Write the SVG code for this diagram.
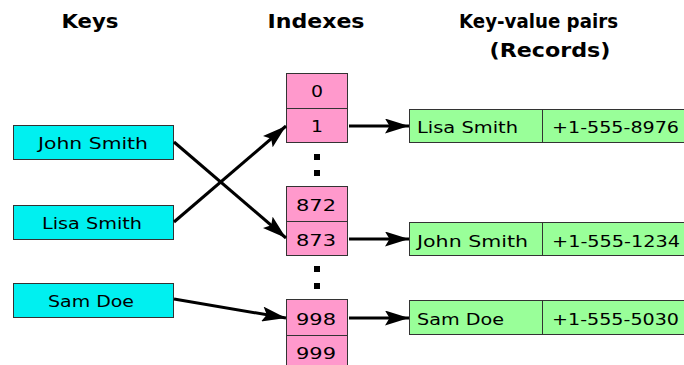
<svg xmlns="http://www.w3.org/2000/svg" width="684" height="365" viewBox="0 0 684 365">
<style>
.t{font-family:"DejaVu Sans","Liberation Sans",sans-serif;font-weight:bold;font-size:20px;fill:#000}
.l{font-family:"DejaVu Sans",Verdana,sans-serif;font-size:16.5px;fill:#000}
.key{fill:#00F0F0;stroke:#333;stroke-width:1}
.idx{fill:#FF99CC;stroke:#333;stroke-width:1}
.rec{fill:#99FF99;stroke:#333;stroke-width:1}
.c{stroke:#000;stroke-width:3;fill:none;marker-end:url(#ah)}
</style>
<defs>
<marker id="ah" markerWidth="8" markerHeight="5" refX="8" refY="2.5" orient="auto" markerUnits="strokeWidth">
<path d="M0,0 L8,2.5 L0,5 L1.5,2.5 Z" fill="#000"/>
</marker>
</defs>
<rect width="684" height="365" fill="#fff"/>
<g id="titles">
<text class="t" x="90" y="28" text-anchor="middle" textLength="57" lengthAdjust="spacingAndGlyphs">Keys</text>
<text class="t" x="316" y="28" text-anchor="middle" textLength="97" lengthAdjust="spacingAndGlyphs">Indexes</text>
<text class="t" x="538.5" y="28" text-anchor="middle" textLength="159" lengthAdjust="spacingAndGlyphs">Key-value pairs</text>
<text class="t" x="550" y="57" text-anchor="middle" textLength="121" lengthAdjust="spacingAndGlyphs">(Records)</text>
</g>
<g id="key-john">
<rect class="key" x="13.5" y="125.5" width="160" height="34"/>
<text class="l" x="93" y="149" text-anchor="middle" textLength="110" lengthAdjust="spacingAndGlyphs">John Smith</text>
</g>
<g id="key-lisa">
<rect class="key" x="13.5" y="205.5" width="160" height="34"/>
<text class="l" x="92" y="229" text-anchor="middle" textLength="100" lengthAdjust="spacingAndGlyphs">Lisa Smith</text>
</g>
<g id="key-sam">
<rect class="key" x="13.5" y="283.5" width="160" height="34"/>
<text class="l" x="91" y="307" text-anchor="middle" textLength="86" lengthAdjust="spacingAndGlyphs">Sam Doe</text>
</g>
<g id="idx-0">
<rect class="idx" x="286.5" y="73.5" width="61" height="35"/>
<text class="l" x="317" y="97" text-anchor="middle" textLength="12" lengthAdjust="spacingAndGlyphs">0</text>
</g>
<g id="idx-1">
<rect class="idx" x="286.5" y="108.5" width="61" height="34"/>
<text class="l" x="317" y="132" text-anchor="middle" textLength="12" lengthAdjust="spacingAndGlyphs">1</text>
</g>
<g id="dots1">
<rect x="314" y="154" width="6" height="6" fill="#000"/>
<rect x="314" y="170" width="6" height="6" fill="#000"/>
</g>
<g id="idx-872">
<rect class="idx" x="286.5" y="186.5" width="61" height="35"/>
<text class="l" x="316" y="211" text-anchor="middle" textLength="40" lengthAdjust="spacingAndGlyphs">872</text>
</g>
<g id="idx-873">
<rect class="idx" x="286.5" y="221.5" width="61" height="34"/>
<text class="l" x="316" y="246" text-anchor="middle" textLength="40" lengthAdjust="spacingAndGlyphs">873</text>
</g>
<g id="dots2">
<rect x="314" y="266" width="6" height="6" fill="#000"/>
<rect x="314" y="283" width="6" height="6" fill="#000"/>
</g>
<g id="idx-998">
<rect class="idx" x="286.5" y="299.5" width="61" height="36"/>
<text class="l" x="316" y="325" text-anchor="middle" textLength="40" lengthAdjust="spacingAndGlyphs">998</text>
</g>
<g id="idx-999">
<rect class="idx" x="286.5" y="335.5" width="61" height="34"/>
<text class="l" x="316" y="359" text-anchor="middle" textLength="40" lengthAdjust="spacingAndGlyphs">999</text>
</g>
<g id="rec-lisa">
<rect class="rec" x="409.5" y="109.5" width="280" height="33"/>
<line x1="542.5" y1="109.5" x2="542.5" y2="142.5" stroke="#333"/>
<text class="l" x="417" y="133" textLength="101" lengthAdjust="spacingAndGlyphs">Lisa Smith</text>
<text class="l" x="552" y="133" textLength="127" lengthAdjust="spacingAndGlyphs">+1-555-8976</text>
</g>
<g id="rec-john">
<rect class="rec" x="409.5" y="222.5" width="280" height="33"/>
<line x1="542.5" y1="222.5" x2="542.5" y2="255.5" stroke="#333"/>
<text class="l" x="417" y="247" textLength="111" lengthAdjust="spacingAndGlyphs">John Smith</text>
<text class="l" x="552" y="247" textLength="128" lengthAdjust="spacingAndGlyphs">+1-555-1234</text>
</g>
<g id="rec-sam">
<rect class="rec" x="409.5" y="300.5" width="280" height="34"/>
<line x1="542.5" y1="300.5" x2="542.5" y2="334.5" stroke="#333"/>
<text class="l" x="417" y="325" textLength="87" lengthAdjust="spacingAndGlyphs">Sam Doe</text>
<text class="l" x="552" y="325" textLength="127" lengthAdjust="spacingAndGlyphs">+1-555-5030</text>
</g>
<g id="connectors">
<line class="c" x1="174" y1="142" x2="286" y2="238"/>
<line class="c" x1="174" y1="222" x2="286" y2="126"/>
<line class="c" x1="174" y1="299" x2="286" y2="318"/>
<line class="c" x1="349" y1="126" x2="409" y2="126"/>
<line class="c" x1="349" y1="239" x2="409" y2="239"/>
<line class="c" x1="349" y1="318" x2="409" y2="318"/>
</g>
</svg>
